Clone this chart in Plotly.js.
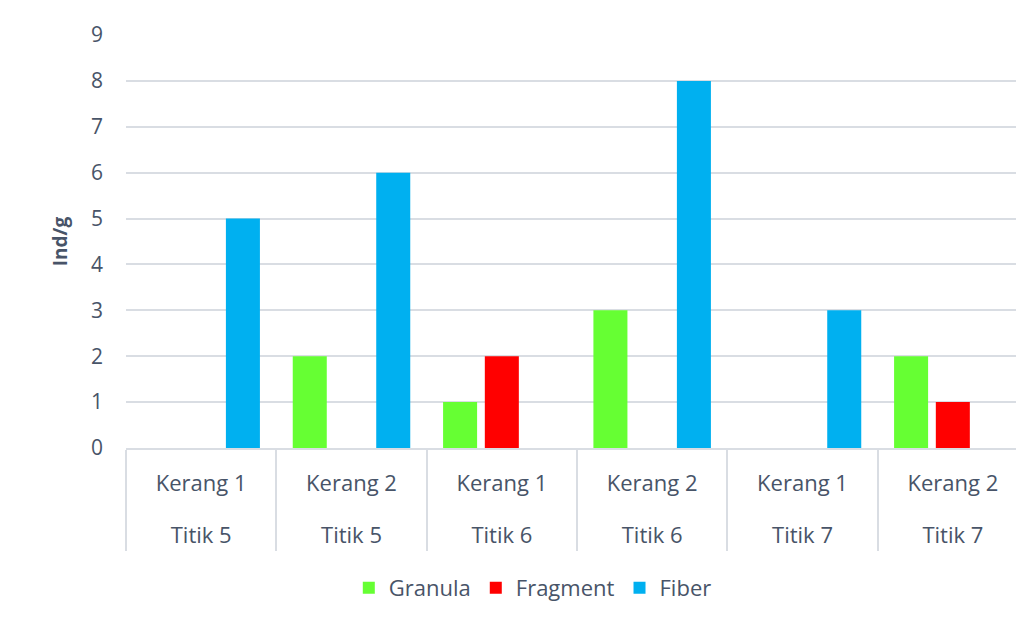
<!DOCTYPE html>
<html>
<head>
<meta charset="utf-8">
<script src="https://cdn.plot.ly/plotly-3.0.1.min.js"></script>
<style>
html,body{margin:0;padding:0;overflow:hidden;background:#fff;width:1016px;height:619px;}
#chart{position:absolute;left:0;top:0;}
#border{position:absolute;left:9px;top:12px;width:2px;height:607px;background:#dfe4ea;}
</style>
</head>
<body>
<div id="border"></div>
<div id="chart"></div>
<script>
const kerang = ["Kerang 1","Kerang 2","Kerang 1","Kerang 2","Kerang 1","Kerang 2"];
const titik = ["Titik 5","Titik 5","Titik 6","Titik 6","Titik 7","Titik 7"];
const granula = [0,2,1,3,0,2];
const fragment = [0,0,2,0,0,1];
const fiber = [5,6,0,8,3,0];
const seriesNames = ["Granula","Fragment","Fiber"];
const colors = ["#66FF33","#FF0000","#00B0F0"];

const cats = kerang.map((k,i)=>k+" | "+titik[i]);
const vals = [granula, fragment, fiber];

const txt = "#485468";
const font = "'Open Sans', Lato, sans-serif";

const data = vals.map((v,i)=>({
  type:"bar", x:cats, y:v, name:seriesNames[i],
  marker:{color:colors[i], line:{width:0}},
  hoverinfo:"x+y+name"
}));
// invisible trace to carry the second label row
data.push({type:"scatter", x:cats, y:cats.map(()=>null), xaxis:"x2", showlegend:false, hoverinfo:"skip"});

const layout = {
  width:1030, height:619,
  margin:{l:126, r:2, t:35, b:171},
  paper_bgcolor:"#fff", plot_bgcolor:"#fff",
  font:{family:font, color:txt, size:21},
  barmode:"group", bargap:0.167, bargroupgap:0.185,
  showlegend:true,
  legend:{orientation:"h", x:0.451, xanchor:"center", y:-0.339, yanchor:"middle",
          font:{size:22, color:txt}, itemwidth:30, tracegroupgap:0, traceorder:"normal"},
  xaxis:{type:"category", tickvals:cats, ticktext:kerang,
         showgrid:false, zeroline:false, showline:true, linecolor:"#d9dde3", linewidth:2,
         ticks:"outside", tickson:"boundaries", ticklen:101, tickcolor:"#d9dde3", tickwidth:2,
         ticklabelstandoff:15,
         tickfont:{size:22, color:txt}, automargin:false},
  xaxis2:{type:"category", overlaying:"x", matches:"x", side:"bottom", anchor:"y",
          tickvals:cats, ticktext:titik, showgrid:false, zeroline:false, showline:false,
          ticks:"", ticklabelstandoff:72, tickfont:{size:22, color:txt}, automargin:false},
  yaxis:{range:[0,9], dtick:1, tick0:0, showgrid:true, gridcolor:"#d9dde3", gridwidth:2,
         zeroline:false, showline:false, ticks:"", ticklabelstandoff:22,
         tickfont:{size:21, color:txt}, automargin:false,
         title:{text:"<b>Ind/g</b>", font:{size:19, color:txt}, standoff:18}}
};
Plotly.newPlot("chart", data, layout, {displayModeBar:false, staticPlot:true});
</script>
</body>
</html>
